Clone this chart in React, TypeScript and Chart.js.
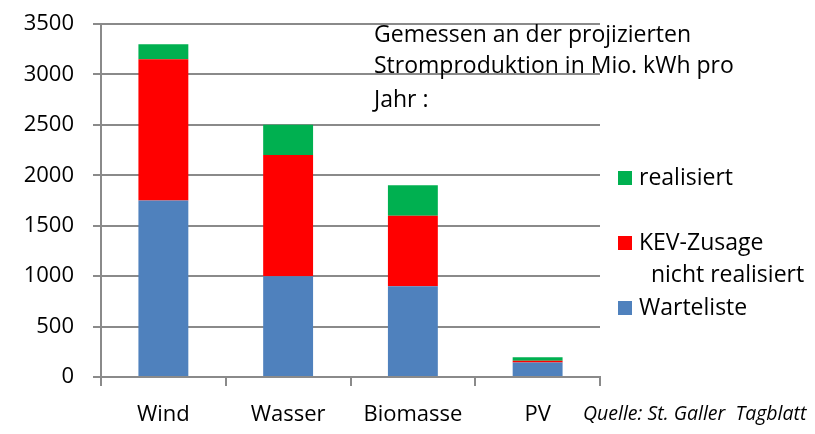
import React, { useEffect, useRef } from 'react';
import { Chart, registerables } from 'chart.js';

Chart.register(...registerables);

const categories = ['Wind', 'Wasser', 'Biomasse', 'PV'];
const warteliste = [1750, 1000, 900, 145];
const kevZusage = [1400, 1200, 700, 15];
const realisiert = [150, 300, 300, 35];
const yMax = 3500;
const yStep = 500;
const seriesNames = ['Warteliste', 'KEV-Zusage', 'realisiert'];
const noteLines = ['Gemessen an der projizierten', 'Stromproduktion in Mio. kWh pro', 'Jahr :'];
const sourceText = 'Quelle: St. Galler  Tagblatt';

const FONT = '"Open Sans", Lato, sans-serif';
const GRID = '#8a8a8a';

const textPlugin = {
  id: 'texts',
  afterDraw(chart: any) {
    const ctx = chart.ctx;
    ctx.save();
    ctx.fillStyle = '#000';
    ctx.textBaseline = 'middle';
    ctx.textAlign = 'left';
    ctx.font = `23px ${FONT}`;
    const noteY = [35, 66, 100];
    noteLines.forEach((l, i) => ctx.fillText(l, 374, noteY[i]));
    const ds = chart.data.datasets;
    const entries = [
      { d: ds[2], y: 178, lines: [ds[2].label] },
      { d: ds[1], y: 243, lines: [ds[1].label, '  nicht realisiert'] },
      { d: ds[0], y: 308, lines: [ds[0].label] },
    ];
    entries.forEach((e) => {
      ctx.fillStyle = e.d.backgroundColor;
      ctx.fillRect(618, e.y - 7, 14, 14);
      ctx.fillStyle = '#000';
      e.lines.forEach((l: string, i: number) => ctx.fillText(l, 639, e.y + i * 32));
    });
    ctx.font = `italic 19.5px ${FONT}`;
    ctx.fillText(sourceText, 583, 414);
    ctx.restore();
  },
};

export default function App() {
  const ref = useRef<HTMLCanvasElement>(null);
  useEffect(() => {
    document.body.style.margin = '0';
    const chart = new Chart(ref.current!, {
      type: 'bar',
      data: {
        labels: categories,
        datasets: [
          { label: seriesNames[0], data: warteliste, backgroundColor: '#4F81BD', barPercentage: 0.4, categoryPercentage: 1 },
          { label: seriesNames[1], data: kevZusage, backgroundColor: '#FF0000', barPercentage: 0.4, categoryPercentage: 1 },
          { label: seriesNames[2], data: realisiert, backgroundColor: '#00B050', barPercentage: 0.4, categoryPercentage: 1 },
        ],
      },
      options: {
        animation: false,
        responsive: false,
        layout: { padding: { top: 24, right: 215, left: 0, bottom: 0 } },
        plugins: { legend: { display: false }, tooltip: { enabled: false } },
        scales: {
          x: {
            stacked: true,
            offset: true,
            grid: { display: true, drawOnChartArea: false, offset: true, tickLength: 9, color: GRID, lineWidth: 2 },
            border: { color: GRID, width: 2 },
            ticks: { color: '#000', font: { family: FONT, size: 22 }, padding: 16 },
            afterFit: (s: any) => { s.height = 57; s.paddingLeft = 0; s.paddingRight = 0; },
          },
          y: {
            stacked: true,
            min: 0,
            max: yMax,
            grid: { color: GRID, lineWidth: 2, tickLength: 8 },
            border: { color: GRID, width: 2 },
            ticks: { stepSize: yStep, color: '#000', font: { family: FONT, size: 22 }, padding: 19, callback: (v: any) => String(v) },
            afterFit: (s: any) => { s.width = 101; s.paddingTop = 0; s.paddingBottom = 0; },
          },
        },
      },
      plugins: [textPlugin],
    });
    return () => chart.destroy();
  }, []);
  return <canvas ref={ref} width={815} height={434} style={{ display: 'block' }} />;
}
